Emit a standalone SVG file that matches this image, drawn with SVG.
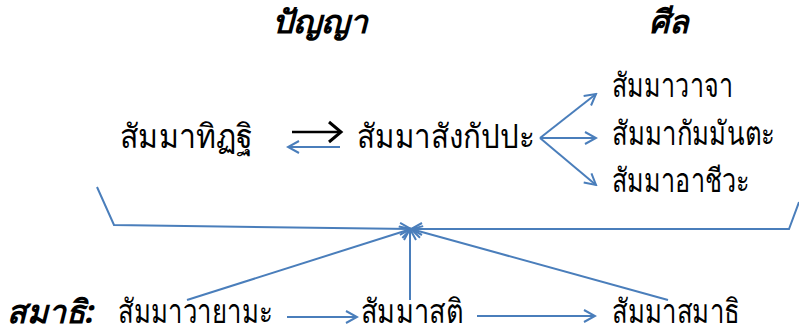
<svg xmlns="http://www.w3.org/2000/svg" width="799" height="333" viewBox="0 0 799 333">
<defs>
<style>
.t{font-family:"Noto Sans","DejaVu Sans",sans-serif;font-size:33px;fill:#000}
.h{font-family:"Noto Sans","DejaVu Sans",sans-serif;font-size:32px;font-weight:bold;font-style:italic;fill:#000}
.c{fill:none;stroke:#4A7EBB;stroke-width:2}
</style>
<marker id="a" markerWidth="14" markerHeight="14" refX="12" refY="7" orient="auto" markerUnits="userSpaceOnUse">
<path d="M1,1 L12,7 L1,13" fill="none" stroke="#4A7EBB" stroke-width="2"/>
</marker>
<marker id="ab" markerWidth="16" markerHeight="24" refX="13" refY="12" orient="auto" markerUnits="userSpaceOnUse">
<path d="M1,2 L13,12 L1,22" fill="none" stroke="#000" stroke-width="3"/>
</marker>
</defs>
<rect width="799" height="333" fill="#fff"/>
<g id="connectors">
<line x1="292" y1="132" x2="341" y2="132" stroke="#000" stroke-width="2.5" marker-end="url(#ab)"/>
<line class="c" x1="340" y1="147" x2="288" y2="147" marker-end="url(#a)"/>
<line class="c" x1="540" y1="138" x2="596" y2="94" marker-end="url(#a)"/>
<line class="c" x1="540" y1="138" x2="596" y2="138" marker-end="url(#a)"/>
<line class="c" x1="540" y1="138" x2="596" y2="185" marker-end="url(#a)"/>
<polyline class="c" points="97,187 114,225 411,229" marker-end="url(#a)"/>
<polyline class="c" points="799,202 789,229 411,229" marker-end="url(#a)"/>
<line class="c" x1="187" y1="300" x2="411" y2="229" marker-end="url(#a)"/>
<line class="c" x1="410" y1="300" x2="410" y2="229" marker-end="url(#a)"/>
<line class="c" x1="668" y1="300" x2="411" y2="229" marker-end="url(#a)"/>
<line class="c" x1="287" y1="317" x2="357" y2="317" marker-end="url(#a)"/>
<line class="c" x1="477" y1="316" x2="595" y2="316" marker-end="url(#a)"/>
</g>
<g id="panya"><text class="h" x="272" y="33" textLength="96" lengthAdjust="spacingAndGlyphs">ปัญญา</text></g>
<g id="sila"><text class="h" x="649" y="33" textLength="40" lengthAdjust="spacingAndGlyphs">ศีล</text></g>
<g id="n1"><text class="t" x="120" y="148" textLength="133" lengthAdjust="spacingAndGlyphs">สัมมาทิฏฐิ</text></g>
<g id="n2"><text class="t" x="357" y="148" textLength="178" lengthAdjust="spacingAndGlyphs">สัมมาสังกัปปะ</text></g>
<g id="n3"><text class="t" x="612" y="97" textLength="121" lengthAdjust="spacingAndGlyphs">สัมมาวาจา</text></g>
<g id="n4"><text class="t" x="775" y="145" font-size="31" text-anchor="end" textLength="163" lengthAdjust="spacingAndGlyphs">สัมมากัมมันตะ</text></g>
<g id="n5"><text class="t" x="612" y="192" textLength="138" lengthAdjust="spacingAndGlyphs">สัมมาอาชีวะ</text></g>
<g id="samadhi"><text class="h" x="7" y="323" textLength="88" lengthAdjust="spacingAndGlyphs">สมาธิ:</text></g>
<g id="n6"><text class="t" x="118" y="323" textLength="155" lengthAdjust="spacingAndGlyphs">สัมมาวายามะ</text></g>
<g id="n7"><text class="t" x="361" y="323" textLength="102" lengthAdjust="spacingAndGlyphs">สัมมาสติ</text></g>
<g id="n8"><text class="t" x="612" y="323" textLength="128" lengthAdjust="spacingAndGlyphs">สัมมาสมาธิ</text></g>
</svg>
